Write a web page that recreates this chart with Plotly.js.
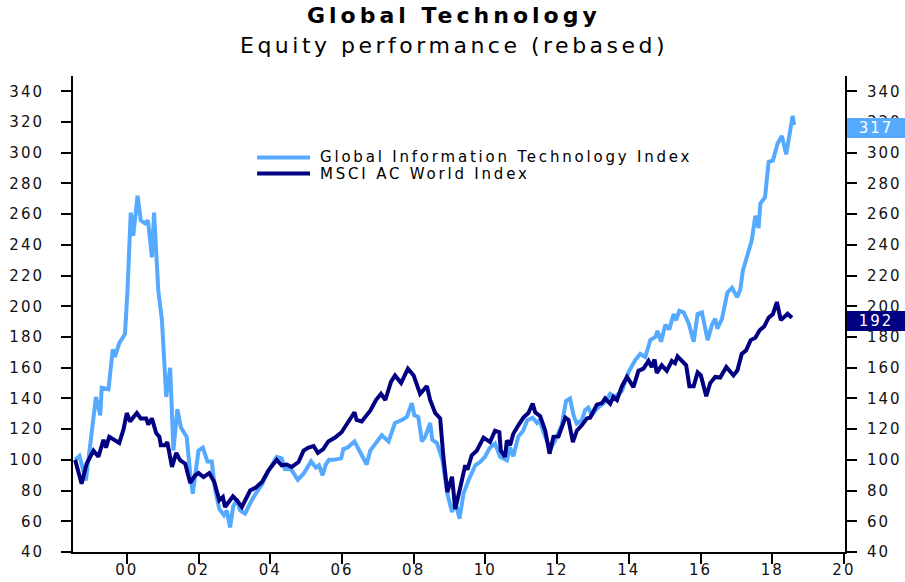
<!DOCTYPE html>
<html>
<head>
<meta charset="utf-8">
<script src="https://cdn.plot.ly/plotly-3.0.1.min.js"></script>
<style>
html, body { margin: 0; padding: 0; background: #fff; }
#chart { width: 905px; height: 582px; }
.js-plotly-plot .main-svg text { letter-spacing: 2px; }
.js-plotly-plot g.annotation[data-index="0"] text { letter-spacing: 4px; }
.js-plotly-plot g.annotation[data-index="1"] text { letter-spacing: 3.5px; }
.js-plotly-plot g.annotation[data-index="2"] text,
.js-plotly-plot g.annotation[data-index="4"] text { letter-spacing: 2.8px; }
</style>
</head>
<body>
<div id="chart"></div>
<script>
// ---- Data (decimal years, rebased index values) ----
const techX = [1998.56,1998.68,1998.86,1999.02,1999.14,1999.26,1999.30,1999.49,1999.61,1999.67,1999.79,1999.95,
  2000.02,2000.11,2000.18,2000.30,2000.39,2000.51,2000.59,2000.70,2000.76,2000.88,2000.98,
  2001.10,2001.21,2001.30,2001.41,2001.51,2001.67,2001.77,2001.84,
  2002.00,2002.12,2002.25,2002.37,2002.46,2002.58,2002.71,2002.79,2002.88,2002.97,
  2003.07,2003.16,2003.30,2003.49,2003.65,2003.77,2003.95,
  2004.18,2004.32,2004.41,2004.58,2004.77,2004.93,
  2005.14,2005.27,2005.36,2005.46,2005.55,2005.64,2005.76,2005.98,
  2006.04,2006.16,2006.35,2006.51,2006.69,2006.79,2006.95,
  2007.11,2007.30,2007.48,2007.67,2007.81,2007.95,
  2008.02,2008.13,2008.23,2008.32,2008.46,2008.52,2008.65,2008.80,2008.94,
  2009.07,2009.16,2009.28,2009.39,2009.53,2009.62,2009.72,2009.85,2009.99,
  2010.13,2010.27,2010.41,2010.60,2010.69,2010.78,2010.92,
  2011.05,2011.17,2011.32,2011.44,2011.51,2011.64,2011.81,2011.95,
  2012.13,2012.25,2012.36,2012.46,2012.55,2012.69,2012.78,2012.87,2012.97,
  2013.11,2013.34,2013.48,2013.62,2013.81,2013.99,
  2014.18,2014.32,2014.46,2014.60,2014.74,2014.80,2014.90,
  2015.02,2015.13,2015.25,2015.32,2015.41,2015.53,2015.67,2015.81,2015.92,
  2016.04,2016.20,2016.32,2016.41,2016.47,2016.60,2016.75,2016.88,
  2017.02,2017.11,2017.18,2017.29,2017.43,2017.53,2017.62,2017.67,2017.80,2017.90,
  2018.02,2018.15,2018.27,2018.39,2018.50,2018.57,2018.61];
const techY = [100,102.5,86.5,115,141,129,147,146,172,167,176,182,
  210,261,246,272,256,254,256,232,261,210,191,
  141,160,106,133,121,115,91,78,
  106,108,99,99,81,68,64,67,56,70,
  74,67,65,74,80,84,93,
  102,101,94,94,87,91,
  99,95,96.5,90,97,100,100,101,
  107,108,112,105,97,106,111,
  116,112,124,126,128,137,
  129,128,112,115,124,113,111,100,78,
  66,72.6,61.7,78,86.7,91,96.5,98.6,102,
  108,110.6,102,99.7,108,102.3,115.3,
  118.8,125.8,127.5,124,125.8,117,107,112.7,
  122.5,138.3,140,129,123.6,125.8,132.3,134,129,
  133.4,137.7,143,141,145,157,
  165,169,167,178,180,184,177,
  188,185,195,191,197,196,189,177,195,
  196,178,188,192,185.5,192,209,212,
  206,211,223,232,243,259,251,267,271,294,
  295,306,311,299,317,324,318];

const msciX = [1998.56,1998.74,1998.88,1999.07,1999.21,1999.35,1999.42,1999.51,1999.79,1999.91,
  2000.00,2000.09,2000.28,2000.39,2000.54,2000.60,2000.70,2000.82,2000.91,2000.95,
  2001.07,2001.13,2001.26,2001.38,2001.49,2001.63,2001.77,2001.91,
  2002.00,2002.14,2002.30,2002.44,2002.58,2002.68,2002.74,2002.96,
  2003.07,2003.21,2003.44,2003.60,2003.77,2003.95,
  2004.18,2004.32,2004.46,2004.60,2004.79,2004.93,
  2005.07,2005.21,2005.33,2005.48,2005.62,2005.81,2005.99,
  2006.23,2006.35,2006.41,2006.55,2006.79,2006.95,
  2007.09,2007.21,2007.37,2007.48,2007.65,2007.84,
  2008.00,2008.18,2008.37,2008.46,2008.60,2008.74,2008.83,2008.94,
  2009.07,2009.16,2009.30,2009.44,2009.50,2009.62,2009.76,2009.95,
  2010.13,2010.27,2010.39,2010.43,2010.55,2010.60,2010.69,2010.78,2010.92,
  2011.06,2011.20,2011.32,2011.39,2011.53,2011.67,2011.79,2011.90,
  2012.04,2012.23,2012.32,2012.44,2012.55,2012.69,2012.83,2012.92,
  2013.11,2013.25,2013.34,2013.48,2013.57,2013.67,2013.81,2013.95,
  2014.13,2014.27,2014.41,2014.55,2014.64,2014.72,2014.78,2014.92,
  2015.06,2015.20,2015.29,2015.36,2015.48,2015.60,2015.69,2015.81,2015.92,
  2016.01,2016.16,2016.27,2016.41,2016.55,2016.72,2016.92,
  2017.03,2017.15,2017.27,2017.40,2017.53,2017.65,2017.78,2017.90,
  2018.02,2018.13,2018.24,2018.34,2018.43,2018.55];
const msciY = [100,84.5,97.5,106,102,113,108,115,111,120,
  130.5,125,130.5,127,127,123,127,117.5,115,109.5,
  109.5,111.6,95.4,104.5,99.7,97.5,85,90,
  91.4,88.8,91.4,85.6,73.7,75.8,69.3,76.3,
  73.7,69.3,80,82,85.6,93,
  100,96.5,97,95.4,98.6,106,
  108,109,104.5,107,112,114.5,118,
  126,131,126,125,132,139,
  143,139,151,155,150,159.4,
  155,143,148,139,130.5,127,102,79,
  89,68,82,96.5,93.6,103,106,114.5,
  111.6,119,118,106,102,112.7,109.5,117,122.5,
  127.5,130.5,136.6,131,128.4,119,104,115,
  115.3,127.5,126,111.6,119,122.5,127,127.5,
  136,137,140,136.6,141,139,148,154,
  147.4,158,159.4,164.4,160.5,165.3,156.6,161.6,
  158,164.4,163,167.4,164.8,161.6,148,148,157,
  155,141.4,150,154,153.6,160.5,155,
  158.3,169,171.3,178,179.6,184.4,187,192.6,
  195,202.8,191,193.5,195.2,192.6];

const seriesNames = ['Global Information Technology Index', 'MSCI AC World Index'];
const seriesColors = ['#55aaff', '#000080'];
const lastValues = ['317', '192'];
const lastLabelY = [316.4, 190.7];
const tickYears = [2000, 2002, 2004, 2006, 2008, 2010, 2012, 2014, 2016, 2018, 2020];
const tickText = ['00', '02', '04', '06', '08', '10', '12', '14', '16', '18', '20'];
const yTicks = [40,60,80,100,120,140,160,180,200,220,240,260,280,300,320,340];

const FONT = 'DejaVu Sans, Verdana, sans-serif';

const traces = [
  {x: techX, y: techY, type: 'scatter', mode: 'lines', name: seriesNames[0],
   line: {color: seriesColors[0], width: 4}, xaxis: 'x', yaxis: 'y', showlegend: false, hoverinfo: 'skip'},
  {x: msciX, y: msciY, type: 'scatter', mode: 'lines', name: seriesNames[1],
   line: {color: seriesColors[1], width: 4}, xaxis: 'x', yaxis: 'y2', showlegend: false, hoverinfo: 'skip'}
];

const yCommon = {
  range: [40, 350], tickvals: yTicks, ticks: 'outside', ticklen: 10, tickwidth: 2, tickcolor: '#000',
  showline: true, linewidth: 2, linecolor: '#000', showgrid: false, zeroline: false,
  tickfont: {family: FONT, size: 15, color: '#111'}
};

// legend drawn as line shapes + text in paper coords
const legRowY = [0.829, 0.795];
const shapes = [0, 1].map(i => ({
  type: 'line', xref: 'paper', yref: 'paper', x0: 0.2385, x1: 0.307, y0: legRowY[i], y1: legRowY[i],
  line: {color: seriesColors[i], width: 4}
}));

const annotations = [
  {text: '<b>Global Technology</b>', xref: 'paper', yref: 'paper', x: 0.494, y: 1.128,
   xanchor: 'center', yanchor: 'middle', showarrow: false, font: {family: FONT, size: 22, color: '#000'}},
  {text: 'Equity performance (rebased)', xref: 'paper', yref: 'paper', x: 0.494, y: 1.064,
   xanchor: 'center', yanchor: 'middle', showarrow: false, font: {family: FONT, size: 22, color: '#000'}},
];
[0, 1].forEach(i => {
  annotations.push({text: seriesNames[i], xref: 'paper', yref: 'paper', x: 0.3175, y: legRowY[i],
    xanchor: 'left', yanchor: 'middle', align: 'left', showarrow: false, font: {family: FONT, size: 15, color: '#000'}});
  annotations.push({text: lastValues[i], xref: 'paper', yref: 'y', x: 1, y: lastLabelY[i], xshift: 2,
    xanchor: 'left', yanchor: 'middle', showarrow: false, bgcolor: seriesColors[i], borderpad: 0, borderwidth: 0,
    width: 58, height: 20, align: 'center', font: {family: FONT, size: 15, color: '#fff'}});
});

const layout = {
  width: 905, height: 582,
  margin: {l: 73, r: 60, t: 76, b: 30},
  paper_bgcolor: '#fff', plot_bgcolor: '#fff',
  showlegend: false,
  xaxis: {
    range: [1998.5, 2020.03], tickvals: tickYears, ticktext: tickText,
    ticks: 'outside', ticklen: 10, tickwidth: 2, tickcolor: '#000',
    showline: true, linewidth: 2, linecolor: '#000', showgrid: false, zeroline: false,
    tickfont: {family: FONT, size: 15, color: '#111'}, ticklabelstandoff: -7
  },
  yaxis: Object.assign({}, yCommon, {side: 'left', ticklabelstandoff: 14}),
  yaxis2: Object.assign({}, yCommon, {side: 'right', overlaying: 'y', matches: 'y', ticklabelstandoff: 7}),
  shapes: shapes,
  annotations: annotations
};

Plotly.newPlot('chart', traces, layout, {displayModeBar: false, staticPlot: true});
</script>
</body>
</html>
